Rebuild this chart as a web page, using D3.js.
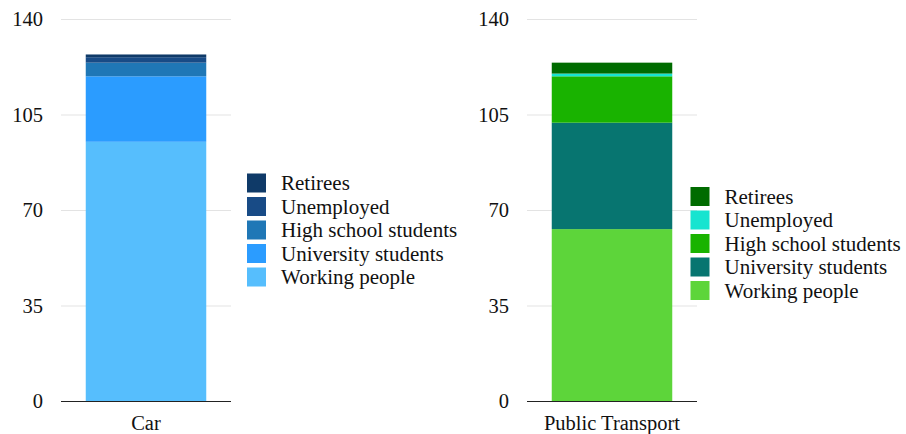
<!DOCTYPE html>
<html>
<head>
<meta charset="utf-8">
<script src="https://cdn.jsdelivr.net/npm/d3@7"></script>
<style>
  html, body { margin: 0; padding: 0; background: #fff; }
  svg { display: block; }
  text { font-family: "Liberation Serif", "Times New Roman", serif; fill: #111; }
</style>
</head>
<body>
<svg id="chart" width="906" height="434"></svg>
<script>
// ---- data ----
const categories = ["Car", "Public Transport"];
const seriesNames = ["Working people", "University students", "High school students", "Unemployed", "Retirees"];
const workingPeople = [95, 63];
const universityStudents = [24, 39];
const highSchoolStudents = [5, 17];
const unemployed = [2, 1];
const retirees = [1, 4];
const yTicks = [0, 35, 70, 105, 140];
const carColors = ["#56befd", "#2b9cff", "#1f77b6", "#184b86", "#0f3a68"];
const ptColors = ["#5dd53a", "#077570", "#19b300", "#16e4d0", "#006b00"];

const seriesValues = [workingPeople, universityStudents, highSchoolStudents, unemployed, retirees];

const svg = d3.select("#chart");

const panels = [
  { idx: 0, x0: 61, x1: 231, labelX: 43, legendX: 247, legendY: 183, colors: carColors },
  { idx: 1, x0: 527, x1: 697, labelX: 509, legendX: 690.5, legendY: 196.5, colors: ptColors }
];

const y = d3.scaleLinear().domain([0, 140]).range([401, 19]);

panels.forEach(p => {
  const g = svg.append("g");
  const cat = categories[p.idx];
  const row = { category: cat };
  seriesNames.forEach((s, i) => row[s] = seriesValues[i][p.idx]);
  const stacked = d3.stack().keys(seriesNames)([row]);

  const x = d3.scaleBand().domain([cat]).range([p.x0, p.x1]).paddingInner(0).paddingOuter(0.1667);
  const barW = 120.5;

  // gridlines
  g.append("g").selectAll("line").data(yTicks.filter(t => t > 0)).join("line")
    .attr("x1", p.x0).attr("x2", p.x1)
    .attr("y1", d => y(d) + 0.5).attr("y2", d => y(d) + 0.5)
    .attr("stroke", "#e3e3e3").attr("stroke-width", 1);

  // y labels
  g.append("g").selectAll("text").data(yTicks).join("text")
    .attr("x", p.labelX).attr("y", d => y(d))
    .attr("dy", "0.35em").attr("text-anchor", "end")
    .style("font-size", "20.5px")
    .text(d => d);

  // bars
  const cx = x(cat) + x.bandwidth() / 2;
  g.append("g").selectAll("rect").data(stacked).join("rect")
    .attr("x", cx - barW / 2)
    .attr("width", barW)
    .attr("y", d => y(d[0][1]))
    .attr("height", d => y(d[0][0]) - y(d[0][1]))
    .attr("fill", (d, i) => p.colors[i]);

  // x axis line
  g.append("line")
    .attr("x1", p.x0).attr("x2", p.x1)
    .attr("y1", y(0) + 0.5).attr("y2", y(0) + 0.5)
    .attr("stroke", "#222").attr("stroke-width", 1);

  // category label
  g.append("text")
    .attr("x", cx).attr("y", 423).attr("dy", "0.35em")
    .attr("text-anchor", "middle")
    .style("font-size", "20.5px")
    .text(cat);

  // legend (reverse order: Retirees at top)
  const legendItems = seriesNames.map((s, i) => ({ name: s, color: p.colors[i] })).reverse();
  const lg = g.append("g");
  const rowH = 23.5;
  const items = lg.selectAll("g").data(legendItems).join("g")
    .attr("transform", (d, i) => `translate(${p.legendX},${p.legendY + i * rowH})`);
  items.append("rect")
    .attr("x", 0).attr("y", -9.5).attr("width", 19).attr("height", 19)
    .attr("fill", d => d.color);
  items.append("text")
    .attr("x", 34).attr("y", 0).attr("dy", "0.35em")
    .style("font-size", "21px")
    .text(d => d.name);
});
</script>
</body>
</html>
